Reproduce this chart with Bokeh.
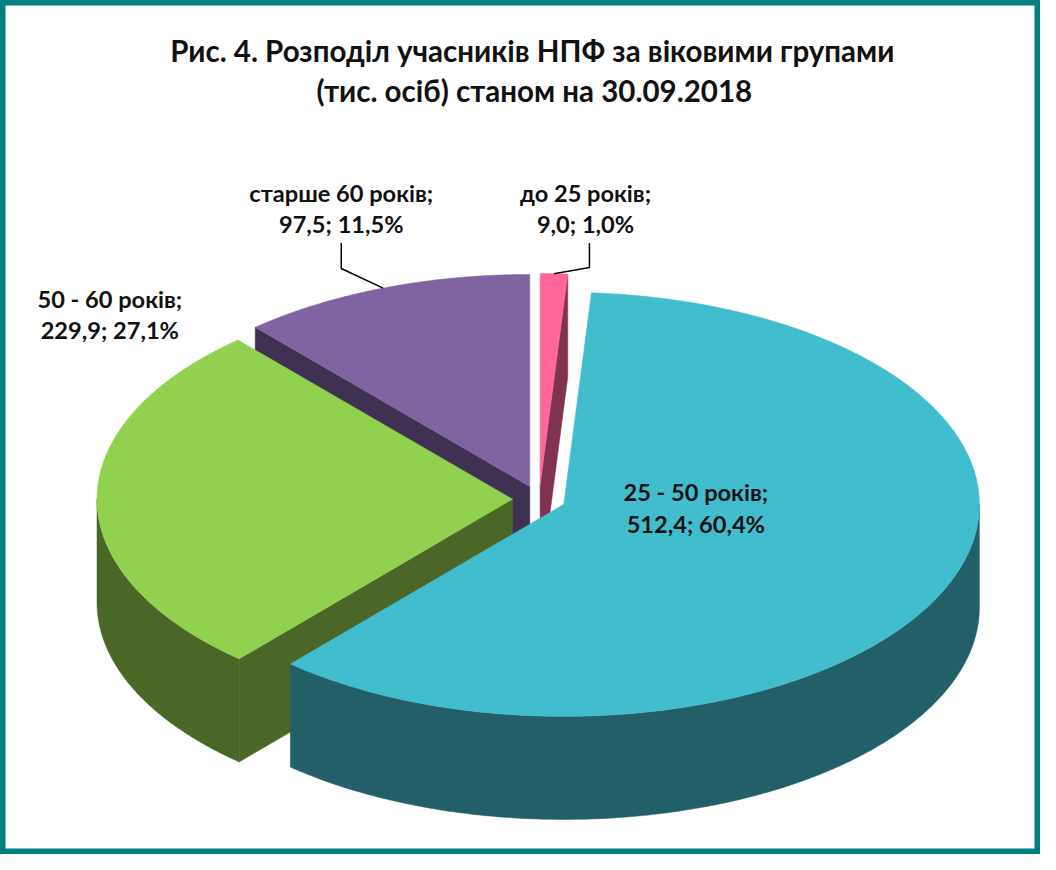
import numpy as np
from bokeh.plotting import figure
from bokeh.models import Range1d
from bokeh.core.properties import value
from bokeh.embed import file_html
from bokeh.resources import INLINE

# ---- data ----
categories = ["до 25 років", "25 - 50 років", "50 - 60 років", "старше 60 років"]
values = [9.0, 512.4, 229.9, 97.5]          # тис. осіб
percents = [1.0, 60.4, 27.1, 11.5]          # %
title_lines = ["Рис. 4. Розподіл учасників НПФ за віковими групами",
               "(тис. осіб) станом на 30.09.2018"]

# ---- styles ----
top_colors = ["#FF6699", "#42BDCE", "#92D050", "#8064A2"]
side_colors = ["#7F3350", "#225F69", "#4A6728", "#3F3151"]
FONT = "Lato"

# ---- layout (reference pixel space 1056 x 870, scaled onto the canvas) ----
W, H = 1040, 854
REF_W, REF_H = 1056, 870
S = W / REF_W
CX, CY = 547.0, 508.0       # pie centre
A, B = 422.0, 216.0         # ellipse semi-axes of top face
DEPTH = 105.0
EXPLODE = 0.064
label_pos = [(594, 196), (706, 501), (111, 304), (346, 196)]
LINE_GAP = 32
leaders = [(598, 247, 272), None, None, (346, 247, 273)]   # (x, start y, elbow y)

p = figure(width=W, height=H, x_range=Range1d(0, REF_W), y_range=Range1d(REF_H, 0),
           output_backend="svg", toolbar_location=None, min_border=0)
p.axis.visible = False
p.grid.visible = False
p.background_fill_color = "white"
p.border_fill_color = "white"
p.outline_line_color = "#008080"
p.outline_line_width = 10

total = float(sum(values))
bounds = np.concatenate([[0.0], np.cumsum(values)]) / total * 2 * np.pi


def rim(cx, cy, th, dz=0.0):
    return cx + A * np.sin(th), cy - B * np.cos(th) + dz


slices = []
for i in range(len(values)):
    t1, t2 = bounds[i], bounds[i + 1]
    mid = 0.5 * (t1 + t2)
    cx = CX + EXPLODE * A * np.sin(mid)
    cy = CY - EXPLODE * B * np.cos(mid)
    slices.append((i, t1, t2, mid, cx, cy))

# paint back-to-front
order = sorted(slices, key=lambda s: -np.cos(s[3]))
for i, t1, t2, mid, cx, cy in order:
    sc, tc = side_colors[i], top_colors[i]
    faces = []
    if np.sin(t1) < -1e-6:
        faces.append(t1)
    if np.sin(t2) > 1e-6:
        faces.append(t2)
    for th in faces:
        rx, ry = rim(cx, cy, th)
        p.patch([cx, rx, rx, cx], [cy, ry, ry + DEPTH, cy + DEPTH],
                fill_color=sc, line_color=sc, line_width=0.5)
    lo, hi = max(t1, np.pi / 2), min(t2, 3 * np.pi / 2)
    if lo < hi:
        th = np.linspace(lo, hi, 200)
        rx, ry = rim(cx, cy, th)
        p.patch(np.concatenate([rx, rx[::-1]]), np.concatenate([ry, (ry + DEPTH)[::-1]]),
                fill_color=sc, line_color=sc, line_width=0.5)
    th = np.linspace(t1, t2, 300)
    rx, ry = rim(cx, cy, th)
    p.patch(np.concatenate([[cx], rx]), np.concatenate([[cy], ry]),
            fill_color=tc, line_color=tc, line_width=0.5)

# leader lines
for i, t1, t2, mid, cx, cy in slices:
    ld = leaders[i]
    if ld is None:
        continue
    lx, ly0, ly1 = ld
    ex, ey = rim(cx, cy, mid)
    p.line([lx, lx, ex], [ly0, ly1, ey], line_color="black", line_width=1.5)


def fmt(v):
    return f"{v:.1f}".replace(".", ",")


lx, ly, lt = [], [], []
for i in range(len(values)):
    x0, y0 = label_pos[i]
    lx += [x0, x0]
    ly += [y0, y0 + LINE_GAP]
    lt += [categories[i] + ";", f"{fmt(values[i])}; {fmt(percents[i])}%"]
p.text(x=lx, y=ly, text=lt, text_font=value(FONT), text_font_style="bold",
       text_font_size=f"{24 * S:.1f}px", text_align="center", text_baseline="middle",
       text_color="#111111")

p.text(x=[540, 542], y=[51, 92], text=title_lines, text_font=value(FONT),
       text_font_style="bold", text_font_size=f"{30 * S:.1f}px", text_align="center",
       text_baseline="middle", text_color="#111111")

open("out.html", "w").write(file_html(p, INLINE))
